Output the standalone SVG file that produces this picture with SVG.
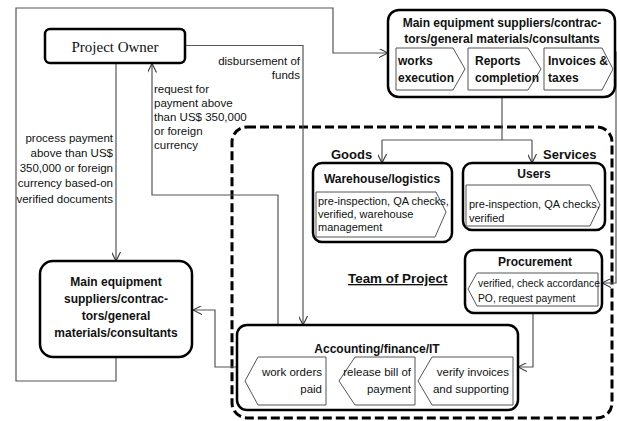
<svg xmlns="http://www.w3.org/2000/svg" width="617" height="421" viewBox="0 0 617 421">
  <defs>
    <marker id="arr" viewBox="0 0 10 10" refX="10" refY="5" markerWidth="9" markerHeight="9" orient="auto" markerUnits="userSpaceOnUse">
      <path d="M0,0 L10,5 L0,10" fill="none" stroke="#333" stroke-width="1.2"/>
    </marker>
  </defs>
  <style>
    .box { fill: #fff; stroke: #000; stroke-width: 2.5; }
    .chev { fill: #fff; stroke: #555; stroke-width: 1; }
    .conn { fill: none; stroke: #555; stroke-width: 1.2; }
    .team { fill: none; stroke: #000; stroke-width: 3; stroke-dasharray: 9 4; }
    .ttl { font-family: "Liberation Sans", Arial, sans-serif; font-weight: bold; font-size: 12px; fill: #111; }
    .txt { font-family: "Liberation Sans", Arial, sans-serif; font-size: 11px; fill: #111; }
    .small { font-size: 10.3px; }
    .lbl { font-family: "Liberation Sans", Arial, sans-serif; font-size: 11.5px; fill: #111; }
    .big { font-size: 13px; }
  </style>

  <rect width="617" height="421" fill="#fff"/>

  <!-- Team of Project container -->
  <g id="team">
    <rect class="team" x="232" y="127" width="380" height="291" rx="15"/>
    <text class="ttl" x="348" y="283" style="font-size:13.4px" text-decoration="underline">Team of Project</text>
  </g>

  <!-- connectors -->
  <g id="connectors">
    <!-- owner -> accounting (disbursement of funds) -->
    <path class="conn" d="M185,45.5 H303 V325" marker-end="url(#arr)"/>
    <!-- accounting -> owner (request for payment) -->
    <path class="conn" d="M278,325 V195 H152 V63.5" marker-end="url(#arr)"/>
    <!-- owner -> local suppliers (process payment) -->
    <path class="conn" d="M116,63.5 V261" marker-end="url(#arr)"/>
    <!-- local suppliers loop back -> main suppliers -->
    <path class="conn" d="M116,357 V381 H16 V8 H333 V53 H388" marker-end="url(#arr)"/>
    <!-- main suppliers -> goods / services split -->
    <path class="conn" d="M502,97 V140"/>
    <path class="conn" d="M382,140 H532"/>
    <path class="conn" d="M382,140 V163" marker-end="url(#arr)"/>
    <path class="conn" d="M532,140 V163" marker-end="url(#arr)"/>
    <!-- main suppliers -> procurement -->
    <path class="conn" d="M615,52 H616 V283 H602" marker-end="url(#arr)"/>
    <!-- procurement -> accounting -->
    <path class="conn" d="M533,313 V367 H518" marker-end="url(#arr)"/>
    <!-- accounting -> local suppliers -->
    <path class="conn" d="M237,367 H215 V310 H193" marker-end="url(#arr)"/>
    <text class="lbl" x="300" y="65" text-anchor="end">disbursement of</text>
    <text class="lbl" x="300" y="79" text-anchor="end">funds</text>
    <text class="lbl" x="154" y="93">request for</text>
    <text class="lbl" x="154" y="107">payment above</text>
    <text class="lbl" x="154" y="121">than US$ 350,000</text>
    <text class="lbl" x="154" y="135">or foreign</text>
    <text class="lbl" x="154" y="149">currency</text>
    <text class="lbl" x="113" y="142" text-anchor="end">process payment</text>
    <text class="lbl" x="113" y="157" text-anchor="end">above than US$</text>
    <text class="lbl" x="113" y="172" text-anchor="end">350,000 or foreign</text>
    <text class="lbl" x="113" y="187" text-anchor="end">currency based-on</text>
    <text class="lbl" x="113" y="203" text-anchor="end">verified documents</text>
    <text class="ttl big" x="331" y="159">Goods</text>
    <text class="ttl big" x="543" y="159">Services</text>
  </g>

  <!-- Project Owner -->
  <g id="project-owner">
    <rect class="box" x="45" y="29" width="140" height="34" rx="5"/>
    <text x="115" y="52" text-anchor="middle" font-family="Liberation Serif, 'Times New Roman', serif" font-size="15" fill="#111">Project Owner</text>
  </g>

  <!-- Main suppliers (top) -->
  <g id="main-suppliers">
    <rect class="box" x="388" y="10" width="227" height="87" rx="11"/>
    <text class="ttl" x="502" y="27" text-anchor="middle">Main equipment suppliers/contrac-</text>
    <text class="ttl" x="502" y="43" text-anchor="middle">tors/general materials/consultants</text>
    <path class="chev" d="M396,48 H453 L465,69 L453,90 H396 Z"/>
    <text class="ttl" x="398" y="65">works</text>
    <text class="ttl" x="398" y="82">execution</text>
    <path class="chev" d="M468,48 H528 L541,69 L528,90 H468 Z"/>
    <text class="ttl" x="475" y="65">Reports</text>
    <text class="ttl" x="475" y="82">completion</text>
    <path class="chev" d="M544,48 H602 L613,69 L602,90 H544 Z"/>
    <text class="ttl" x="548" y="65">Invoices &amp;</text>
    <text class="ttl" x="548" y="82">taxes</text>
  </g>

  <!-- Warehouse/logistics -->
  <g id="warehouse">
    <rect class="box" x="313" y="163" width="139" height="79" rx="9"/>
    <text class="ttl" x="382" y="183" text-anchor="middle">Warehouse/logistics</text>
    <path class="chev" d="M316,192 H436 L446,212 L435,237 H316 Z"/>
    <text class="txt" x="318" y="205">pre-inspection, QA checks,</text>
    <text class="txt" x="318" y="218">verified, warehouse</text>
    <text class="txt" x="318" y="231">management</text>
  </g>

  <!-- Users -->
  <g id="users">
    <rect class="box" x="463" y="163" width="142" height="67" rx="9"/>
    <text class="ttl" x="534" y="178" text-anchor="middle">Users</text>
    <path class="chev" d="M466,185 H590 L600,205 L590,226 H466 Z"/>
    <text class="txt" x="469" y="208">pre-inspection, QA checks,</text>
    <text class="txt" x="469" y="222">verified</text>
  </g>

  <!-- Procurement -->
  <g id="procurement">
    <rect class="box" x="465" y="250" width="137" height="63" rx="9"/>
    <text class="ttl" x="535" y="266" text-anchor="middle">Procurement</text>
    <path class="chev" d="M468,289 L477,273 H598 V306 H477 Z"/>
    <text class="txt small" x="478" y="287">verified, check accordance</text>
    <text class="txt small" x="478" y="302">PO, request payment</text>
  </g>

  <!-- Accounting/finance/IT -->
  <g id="accounting">
    <rect class="box" x="237" y="325" width="281" height="85" rx="10"/>
    <text class="ttl" x="377" y="353" text-anchor="middle">Accounting/finance/IT</text>
    <path class="chev" d="M418,381 L432,357 H513 V405 H432 Z"/>
    <text class="lbl" x="509" y="376" text-anchor="end">verify invoices</text>
    <text class="lbl" x="509" y="393" text-anchor="end">and supporting</text>
    <path class="chev" d="M339,381 L355,357 H415 V405 H355 Z"/>
    <text class="lbl" x="411" y="376" text-anchor="end">release bill of</text>
    <text class="lbl" x="411" y="393" text-anchor="end">payment</text>
    <path class="chev" d="M245,381 L258,357 H326 V405 H258 Z"/>
    <text class="lbl" x="322" y="376" text-anchor="end">work orders</text>
    <text class="lbl" x="322" y="393" text-anchor="end">paid</text>
  </g>

  <!-- Local suppliers (bottom left) -->
  <g id="local-suppliers">
    <rect class="box" x="40" y="261" width="152" height="96" rx="13"/>
    <text class="ttl" x="116" y="286" text-anchor="middle">Main equipment</text>
    <text class="ttl" x="116" y="303" text-anchor="middle">suppliers/contrac-</text>
    <text class="ttl" x="116" y="320" text-anchor="middle">tors/general</text>
    <text class="ttl" x="116" y="337" text-anchor="middle">materials/consultants</text>
  </g>
</svg>
